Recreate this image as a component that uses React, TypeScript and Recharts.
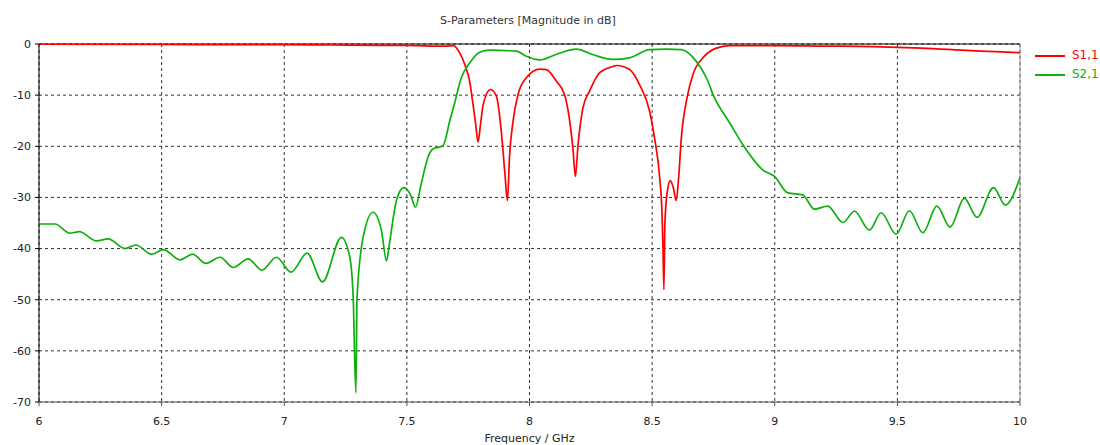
import React from "react";
import {
  LineChart,
  Line,
  XAxis,
  YAxis,
  CartesianGrid,
  ReferenceLine,
} from "recharts";

// S1,1 (reflection)
const s11Freq = [
  6.0, 6.5, 7.0, 7.2, 7.4, 7.5, 7.6, 7.66, 7.69, 7.716, 7.736, 7.756, 7.77,
  7.781, 7.79, 7.8, 7.811, 7.841, 7.865, 7.885, 7.899, 7.91, 7.919, 7.933,
  7.953, 7.987, 8.042, 8.069, 8.11, 8.143, 8.164, 8.178, 8.187, 8.198, 8.218,
  8.245, 8.286, 8.34, 8.354, 8.408, 8.449, 8.49, 8.51, 8.531, 8.54, 8.544,
  8.548, 8.552, 8.562, 8.574, 8.587, 8.598, 8.608, 8.619, 8.642, 8.666, 8.707,
  8.762, 8.816, 9.0, 9.2, 9.4, 9.6, 9.8, 9.9, 10.0,
];
const s11Db = [
  -0.05, -0.1, -0.15, -0.2, -0.25, -0.25, -0.4, -0.4, -0.3, -1.8, -4.0, -7.3,
  -11.9, -15.8, -19.2, -15.8, -11.9, -8.9, -10.2, -17.1, -24.9, -30.6, -21.6,
  -15.1, -9.9, -6.6, -4.9, -5.0, -7.3, -9.9, -15.1, -21.0, -25.9, -19.7, -12.5,
  -9.2, -5.6, -4.4, -4.2, -5.0, -8.0, -13.2, -18.4, -26.2, -32.7, -39.2, -48.0,
  -35.3, -28.8, -26.7, -28.2, -30.6, -26.2, -18.4, -10.6, -6.0, -2.7, -0.8,
  -0.3, -0.3, -0.4, -0.5, -0.8, -1.3, -1.5, -1.7,
];

// S2,1 (transmission)
const s21Freq = [
  6.0, 6.065, 6.126, 6.164, 6.235, 6.282, 6.35, 6.395, 6.459, 6.507, 6.575,
  6.626, 6.681, 6.738, 6.792, 6.853, 6.909, 6.968, 7.028, 7.093, 7.156, 7.233,
  7.267, 7.281, 7.292, 7.297, 7.322, 7.362, 7.396, 7.417, 7.427, 7.458, 7.487,
  7.515, 7.535, 7.559, 7.587, 7.607, 7.647, 7.675, 7.695, 7.722, 7.756, 7.797,
  7.838, 7.906, 7.947, 7.987, 8.042, 8.11, 8.191, 8.259, 8.34, 8.408, 8.49,
  8.558, 8.619, 8.68, 8.721, 8.755, 8.816, 8.87, 8.951, 8.999, 9.053, 9.114,
  9.162, 9.216, 9.278, 9.325, 9.386, 9.434, 9.495, 9.549, 9.604, 9.661, 9.715,
  9.773, 9.825, 9.892, 9.94, 10.0,
];
const s21Db = [
  -35.2, -35.2, -37.0, -36.7, -38.5, -38.1, -40.0, -39.3, -41.1, -40.2, -42.2,
  -41.1, -42.9, -41.7, -43.7, -42.0, -44.2, -41.7, -44.6, -40.9, -46.5, -37.8,
  -41.6, -49.4, -68.2, -49.4, -37.7, -32.9, -36.4, -42.4, -39.6, -30.5, -28.1,
  -29.5, -31.9, -27.2, -22.0, -20.5, -19.9, -15.0, -11.5, -6.6, -3.7, -1.6,
  -1.2, -1.3, -1.4, -2.4, -3.1, -2.0, -1.0, -2.1, -3.0, -2.7, -1.1, -1.0, -1.1,
  -3.4, -6.6, -10.6, -15.4, -19.7, -24.6, -25.9, -29.1, -29.5, -32.3, -31.7,
  -34.9, -32.7, -36.4, -33.0, -37.2, -32.6, -36.9, -31.7, -35.8, -30.2, -33.9,
  -28.1, -31.5, -26.1,
];

const xTicks = [6, 6.5, 7, 7.5, 8, 8.5, 9, 9.5, 10];
const yTicks = [0, -10, -20, -30, -40, -50, -60, -70];

const RED = "#ff0000";
const GREEN = "#0db00d";
const FONT = "'DejaVu Sans', sans-serif";

const s11 = s11Freq.map((f, i) => ({ f, db: s11Db[i] }));
const s21 = s21Freq.map((f, i) => ({ f, db: s21Db[i] }));

export default function App() {
  return (
    <div
      style={{
        position: "absolute",
        left: 0,
        top: 0,
        width: 1100,
        height: 445,
        background: "#fff",
        fontFamily: FONT,
        overflow: "hidden",
      }}
    >
      <div
        style={{
          position: "absolute",
          top: 14,
          left: 0,
          width: 1056,
          textAlign: "center",
          fontSize: 11,
          color: "#333",
        }}
      >
        S-Parameters [Magnitude in dB]
      </div>

      <LineChart
        width={1100}
        height={445}
        margin={{ top: 44, right: 80, bottom: 0, left: 0 }}
      >
        <CartesianGrid
          stroke="#333"
          strokeDasharray="3 3"
          horizontal
          vertical
        />
        <XAxis
          type="number"
          dataKey="f"
          domain={[6, 10]}
          ticks={xTicks}
          allowDataOverflow
          height={43}
          tickSize={4}
          tickMargin={11}
          stroke="#555"
          tick={{ fontSize: 11, fill: "#222", fontFamily: FONT }}
          label={{
            value: "Frequency / GHz",
            position: "insideBottom",
            offset: 3,
            fontSize: 11,
            fill: "#222",
            fontFamily: FONT,
          }}
        />
        <YAxis
          type="number"
          domain={[-70, 0]}
          ticks={yTicks}
          allowDataOverflow
          width={39}
          tickSize={4}
          tickMargin={4}
          stroke="#000"
          tick={{ fontSize: 11, fill: "#222", fontFamily: FONT }}
        />
        <ReferenceLine y={0} stroke="#000" strokeWidth={1} />
        <ReferenceLine x={10} stroke="#999" strokeWidth={1} />
        <Line
          data={s11}
          dataKey="db"
          type="monotone"
          stroke={RED}
          strokeWidth={1.7}
          dot={false}
          isAnimationActive={false}
        />
        <Line
          data={s21}
          dataKey="db"
          type="monotone"
          stroke={GREEN}
          strokeWidth={1.7}
          dot={false}
          isAnimationActive={false}
        />
      </LineChart>

      <div
        style={{
          position: "absolute",
          left: 1035,
          top: 46,
          fontSize: 12,
          lineHeight: "19px",
        }}
      >
        <div style={{ display: "flex", alignItems: "center", color: RED }}>
          <span
            style={{
              display: "inline-block",
              width: 30,
              height: 2,
              background: RED,
              marginRight: 7,
            }}
          />
          S1,1
        </div>
        <div style={{ display: "flex", alignItems: "center", color: GREEN }}>
          <span
            style={{
              display: "inline-block",
              width: 30,
              height: 2,
              background: GREEN,
              marginRight: 7,
            }}
          />
          S2,1
        </div>
      </div>
    </div>
  );
}
